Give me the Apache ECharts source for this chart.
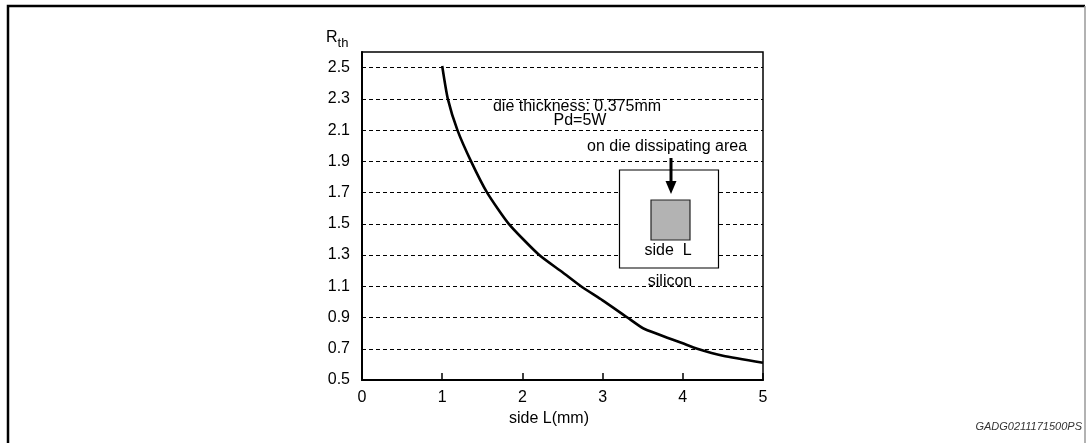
<!DOCTYPE html>
<html>
<head>
<meta charset="utf-8">
<script src="https://cdn.jsdelivr.net/npm/echarts@6/dist/echarts.min.js"></script>
<style>
    html, body { margin: 0; padding: 0; background: #fff; }
    #chart { width: 1086px; height: 443px; }
</style>
</head>
<body>
<div id="chart"></div>
<script>
// side length L (mm) and thermal resistance
const sideL = [1.0, 1.07, 1.19, 1.36, 1.56, 1.83, 2.21, 2.5, 2.73, 3.0, 3.31, 3.51, 4.0, 4.18, 4.5, 5.0];
const rth = [2.51, 2.30, 2.10, 1.90, 1.70, 1.50, 1.30, 1.19, 1.10, 1.01, 0.90, 0.83, 0.735, 0.70, 0.655, 0.61];

const xTicks = [0, 5, 1];          // min, max, step
const yRange = [0.5, 2.6];         // labels every 0.2 from 0.5

const font = 'Liberation Sans, Arial, sans-serif';

const chart = echarts.init(document.getElementById('chart'));

const curve = sideL.map((x, i) => [x, rth[i]]);

const option = {
    backgroundColor: '#fff',
    animation: false,
    grid: {
        left: 362,
        right: 323,
        top: 52,
        bottom: 63,
        show: true,
        borderColor: '#000',
        borderWidth: 1.5
    },
    xAxis: {
        type: 'value',
        min: xTicks[0],
        max: xTicks[1],
        interval: xTicks[2],
        name: 'side L(mm)',
        nameLocation: 'middle',
        nameGap: 28,
        nameTextStyle: { color: '#000', fontSize: 16, fontFamily: font, padding: [0, 27, 0, 0] },
        axisLine: { show: true, lineStyle: { color: '#000', width: 2 } },
        axisTick: { show: true, inside: true, length: 7, lineStyle: { color: '#000', width: 1.5 } },
        axisLabel: { color: '#000', fontSize: 16, fontFamily: font, margin: 10 },
        splitLine: { show: false }
    },
    yAxis: {
        type: 'value',
        min: yRange[0],
        max: yRange[1],
        interval: 0.1,
        axisLine: { show: true, lineStyle: { color: '#000', width: 2 } },
        axisTick: { show: false },
        axisLabel: {
            color: '#000',
            fontSize: 16,
            fontFamily: font,
            margin: 12,
            showMaxLabel: false,
            formatter: v => (Math.round(v * 10) % 2 === 1 ? v.toFixed(1) : '')
        },
        splitLine: {
            show: true,
            lineStyle: { color: ['#000', 'rgba(0,0,0,0)'], width: 1, type: [4, 3] }
        }
    },
    series: [
        {
            type: 'line',
            data: curve,
            symbol: 'none',
            smooth: 0.2,
            lineStyle: { color: '#000', width: 2.6 },
            z: 5
        }
    ],
    graphic: [
        // outer frame
        {
            type: 'polyline',
            shape: { points: [[8, 443], [8, 6], [1085, 6]] },
            style: { stroke: '#000', lineWidth: 2.5, fill: null }
        },
        {
            type: 'line',
            shape: { x1: 1085, y1: 6, x2: 1085, y2: 443 },
            style: { stroke: '#999', lineWidth: 1.5 }
        },
        // y axis title R_th
        {
            type: 'text',
            left: 326,
            top: 30,
            style: {
                text: '{r|R}{s|th}',
                rich: {
                    r: { fontSize: 16, fontFamily: font, fill: '#000', verticalAlign: 'top' },
                    s: { fontSize: 13, fontFamily: font, fill: '#000', padding: [7, 0, 0, 0] }
                }
            }
        },
        // annotations
        {
            type: 'text',
            x: 577, y: 107,
            style: { text: 'die thickness: 0.375mm', fontSize: 16, fontFamily: font, fill: '#000', align: 'center', verticalAlign: 'middle' },
            z: 10
        },
        {
            type: 'text',
            x: 580, y: 121,
            style: { text: 'Pd=5W', fontSize: 16, fontFamily: font, fill: '#000', align: 'center', verticalAlign: 'middle' },
            z: 10
        },
        {
            type: 'text',
            x: 587, y: 147,
            style: { text: 'on die dissipating area', fontSize: 16, fontFamily: font, fill: '#000', align: 'left', verticalAlign: 'middle' },
            z: 10
        },
        // silicon die sketch
        {
            type: 'rect',
            shape: { x: 619.5, y: 170, width: 99, height: 98 },
            style: { fill: '#fff', stroke: '#000', lineWidth: 1.2 },
            z: 10
        },
        {
            type: 'rect',
            shape: { x: 651, y: 200, width: 39, height: 40 },
            style: { fill: '#b3b3b3', stroke: '#222', lineWidth: 1.2 },
            z: 11
        },
        {
            type: 'line',
            shape: { x1: 671, y1: 158, x2: 671, y2: 184 },
            style: { stroke: '#000', lineWidth: 3 },
            z: 11
        },
        {
            type: 'polygon',
            shape: { points: [[665.5, 181], [676.5, 181], [671, 194]] },
            style: { fill: '#000' },
            z: 11
        },
        {
            type: 'text',
            x: 668, y: 251,
            style: { text: 'side  L', fontSize: 16, fontFamily: font, fill: '#000', align: 'center', verticalAlign: 'middle' },
            z: 12
        },
        {
            type: 'text',
            x: 670, y: 282,
            style: { text: 'silicon', fontSize: 16, fontFamily: font, fill: '#000', align: 'center', verticalAlign: 'middle' },
            z: 12
        },
        // drawing code
        {
            type: 'text',
            x: 1082, y: 427,
            style: { text: 'GADG0211171500PS', fontSize: 11, fontStyle: 'italic', fontFamily: font, fill: '#333', align: 'right', verticalAlign: 'middle' }
        }
    ]
};

chart.setOption(option);
</script>
</body>
</html>
